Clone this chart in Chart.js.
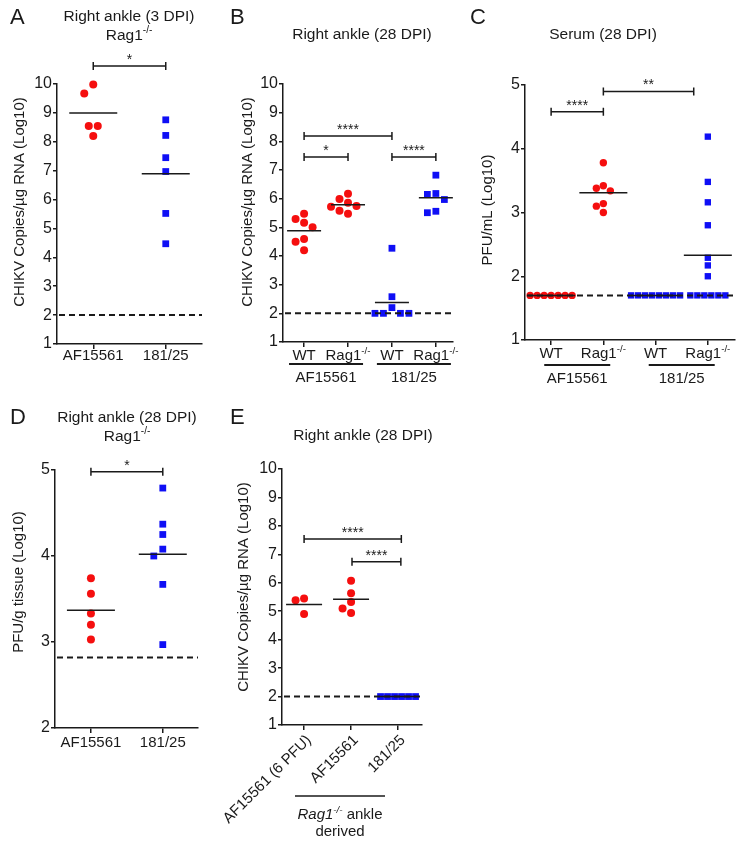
<!DOCTYPE html>
<html>
<head>
<meta charset="utf-8">
<title>CHIKV AF15561 vs 181/25</title>
<script src="https://cdn.jsdelivr.net/npm/chart.js@4/dist/chart.umd.min.js"></script>
<style>
  html, body { margin: 0; padding: 0; background: #fff; }
  #wrap { position: relative; width: 744px; height: 846px; }
  #wrap canvas { position: absolute; left: 0; top: 0; }
</style>
</head>
<body>
<div id="wrap">
  <canvas id="panelA" width="744" height="846"></canvas>
  <canvas id="panelB" width="744" height="846"></canvas>
  <canvas id="panelC" width="744" height="846"></canvas>
  <canvas id="panelD" width="744" height="846"></canvas>
  <canvas id="panelE" width="744" height="846"></canvas>
</div>
<script>
/* ============================
   DATA (log10 values)
============================ */

// A - Right ankle (3 DPI), Rag1-/-
const aCategories = ["AF15561", "181/25"];
const aAF15561 = [9.98, 9.67, 8.55, 8.55, 8.2];
const a18125 = [8.76, 8.22, 7.45, 6.97, 5.52, 4.47];
const aMeans = [9.0, 6.89];
const aLimit = 2.0;
const aYTicks = [1, 2, 3, 4, 5, 6, 7, 8, 9, 10];
const aStats = [[0, 1, 10.62, "*"]];

// B - Right ankle (28 DPI)
const bCategories = ["WT", "Rag1-/-", "WT", "Rag1-/-"];
const bGroups = ["AF15561", "181/25"];
const bAFWT = [5.47, 5.29, 5.16, 5.0, 4.59, 4.5, 4.2];
const bAFRag = [6.17, 5.99, 5.86, 5.74, 5.72, 5.58, 5.47];
const b181WT = [4.27, 2.58, 2.2, 2.0, 2.0, 2.0, 2.0];
const b181Rag = [6.82, 6.18, 6.15, 5.97, 5.56, 5.51];
const bMeans = [4.88, 5.79, 2.38, 6.03];
const bLimit = 2.0;
const bYTicks = [1, 2, 3, 4, 5, 6, 7, 8, 9, 10];
const bStats = [[0, 2, 8.19, "****"], [0, 1, 7.45, "*"], [2, 3, 7.45, "****"]];

// C - Serum (28 DPI), PFU/mL
const cCategories = ["WT", "Rag1-/-", "WT", "Rag1-/-"];
const cGroups = ["AF15561", "181/25"];
const cAFWT = [1.7, 1.7, 1.7, 1.7, 1.7, 1.7, 1.7];
const cAFRag = [3.78, 3.42, 3.38, 3.34, 3.14, 3.1, 3.0];
const c181WT = [1.7, 1.7, 1.7, 1.7, 1.7, 1.7, 1.7, 1.7];
const c181Rag = [4.19, 3.48, 3.16, 2.8, 2.29, 2.17, 2.0, 1.7, 1.7, 1.7, 1.7, 1.7, 1.7];
const cMeans = [1.7, 3.31, 1.7, 2.33];
const cLimit = 1.7;
const cYTicks = [1, 2, 3, 4, 5];
const cStats = [[0, 1, 4.58, "****"], [1, 2.73, 4.9, "**"]];

// D - Right ankle (28 DPI), Rag1-/-, PFU/g tissue
const dCategories = ["AF15561", "181/25"];
const dAF15561 = [3.74, 3.56, 3.33, 3.2, 3.03];
const d18125 = [4.79, 4.37, 4.25, 4.08, 4.0, 3.67, 2.97];
const dMeans = [3.37, 4.02];
const dLimit = 2.82;
const dYTicks = [2, 3, 4, 5];
const dStats = [[0, 1, 4.98, "*"]];

// E - Right ankle (28 DPI), Rag1-/- ankle derived virus
const eCategories = ["AF15561 (6 PFU)", "AF15561", "181/25"];
const eAF6PFU = [5.45, 5.39, 4.9];
const eAF15561 = [6.07, 5.63, 5.32, 5.1, 4.94];
const e18125 = [2.0, 2.0, 2.0, 2.0, 2.0, 2.0];
const eMeans = [5.24, 5.42, 2.0];
const eLimit = 2.0;
const eYTicks = [1, 2, 3, 4, 5, 6, 7, 8, 9, 10];
const eStats = [[0, 2.07, 7.54, "****"], [1.02, 2.06, 6.74, "****"]];

const yTitleRNA = "CHIKV Copies/\u00b5g RNA (Log10)";

/* ============================
   STYLE
============================ */

const FONT = '"Liberation Sans", Arial, Helvetica, sans-serif';
const INK = "#1a1a1a";
const RED = "#f50f0f";
const BLUE = "#0f0ff5";
const W = 744, H = 846;

Chart.defaults.font.family = FONT;

// split "Rag1-/-" into normal + superscript pieces
function toParts(str, italic) {
  const m = str.match(/^(.*?)Rag1-\/-(.*)$/);
  if (!m) return [[str, ""]];
  const st = italic ? "i" : "";
  return [[m[1], ""], ["Rag1", st], ["-/-", st + "sup"], [m[2], ""]].filter(p => p[0]);
}

// text with superscripts, cy = middle of capitals
function drawRich(ctx, parts, x, cy, size, align) {
  const segs = parts.map(([t, st]) => {
    const sup = st.includes("sup");
    const fs = sup ? size * 0.65 : size;
    const font = (st.includes("i") ? "italic " : "") + fs + "px " + FONT;
    ctx.font = font;
    return { t, font, sup, w: ctx.measureText(t).width };
  });
  const total = segs.reduce((s, g) => s + g.w, 0);
  let cx = align === "center" ? x - total / 2 : align === "right" ? x - total : x;
  const base = cy + size * 0.36;
  ctx.textAlign = "left";
  ctx.textBaseline = "alphabetic";
  segs.forEach(g => {
    ctx.font = g.font;
    ctx.fillText(g.t, cx, g.sup ? base - size * 0.42 : base);
    cx += g.w;
  });
}

// simple beeswarm: spread colliding points sideways (offsets in px)
function swarm(values, ppu, step) {
  const order = values.map((v, i) => i).sort((a, b) => values[b] - values[a]);
  const offs = new Array(values.length).fill(0);
  const placed = [];
  order.forEach(i => {
    const y = values[i] * ppu;
    for (let k = 0; k < 60; k++) {
      const n = Math.ceil(k / 2);
      const cand = (k % 2 ? -n : n) * step;
      if (placed.every(p => Math.hypot(p.x - cand, p.y - y) >= step - 0.01)) {
        offs[i] = cand;
        placed.push({ x: cand, y });
        break;
      }
    }
  });
  // centre rows of identical values
  const rows = {};
  values.forEach((v, i) => (rows[v] = rows[v] || []).push(i));
  Object.values(rows).forEach(ix => {
    if (ix.length < 2) return;
    const mid = ix.reduce((s, i) => s + offs[i], 0) / ix.length;
    ix.forEach(i => (offs[i] -= mid));
  });
  return offs;
}

/* ============================
   PANELS
============================ */

const panels = [
  {
    id: "A", box: { left: 57, right: 202, top: 84, bottom: 344 },
    xr: [-0.5, 1.5], yr: [1, 10], yTicks: aYTicks, cats: aCategories,
    series: [
      { values: aAF15561, cat: 0, color: RED, shape: "circle" },
      { values: a18125, cat: 1, color: BLUE, shape: "rect" },
    ],
    means: aMeans, limit: aLimit, stats: aStats,
    dot: 4, sq: 4.8, step: 9, meanHalf: 24,
    letter: ["A", 10, 16],
    titles: [["Right ankle (3 DPI)", 129, 15], ["Rag1-/-", 129, 34]],
    yTitle: [yTitleRNA, 19, 202],
    xLabels: { mode: "simple", cy: 355 },
  },
  {
    id: "B", box: { left: 283, right: 453, top: 84, bottom: 342 },
    xr: [-0.48, 3.39], yr: [1, 10], yTicks: bYTicks, cats: bCategories,
    series: [
      { values: bAFWT, cat: 0, color: RED, shape: "circle" },
      { values: bAFRag, cat: 1, color: RED, shape: "circle" },
      { values: b181WT, cat: 2, color: BLUE, shape: "rect" },
      { values: b181Rag, cat: 3, color: BLUE, shape: "rect" },
    ],
    means: bMeans, limit: bLimit, stats: bStats,
    dot: 4, sq: 4.8, step: 8.5, meanHalf: 17,
    letter: ["B", 230, 16],
    titles: [["Right ankle (28 DPI)", 362, 33]],
    yTitle: [yTitleRNA, 247, 202],
    xLabels: { mode: "grouped", cy: 355, lineY: 364, half: 37, groupY: 377, groups: bGroups },
  },
  {
    id: "C", box: { left: 525, right: 735, top: 85, bottom: 340 },
    xr: [-0.5, 3.52], yr: [1, 5], yTicks: cYTicks, cats: cCategories,
    series: [
      { values: cAFWT, cat: 0, color: RED, shape: "circle" },
      { values: cAFRag, cat: 1, color: RED, shape: "circle" },
      { values: c181WT, cat: 2, color: BLUE, shape: "rect" },
      { values: c181Rag, cat: 3, color: BLUE, shape: "rect" },
    ],
    means: cMeans, limit: cLimit, stats: cStats,
    dot: 3.7, sq: 4.5, step: 7, meanHalf: 24,
    letter: ["C", 470, 16],
    titles: [["Serum (28 DPI)", 603, 33]],
    yTitle: ["PFU/mL (Log10)", 487, 210],
    xLabels: { mode: "grouped", cy: 353, lineY: 365, half: 33, groupY: 378, groups: cGroups },
  },
  {
    id: "D", box: { left: 55, right: 198, top: 470, bottom: 728 },
    xr: [-0.5, 1.49], yr: [2, 5], yTicks: dYTicks, cats: dCategories,
    series: [
      { values: dAF15561, cat: 0, color: RED, shape: "circle" },
      { values: d18125, cat: 1, color: BLUE, shape: "rect" },
    ],
    means: dMeans, limit: dLimit, stats: dStats,
    dot: 4, sq: 4.8, step: 9, meanHalf: 24,
    letter: ["D", 10, 416],
    titles: [["Right ankle (28 DPI)", 127, 416], ["Rag1-/-", 127, 435]],
    yTitle: ["PFU/g tissue (Log10)", 18, 582],
    xLabels: { mode: "simple", cy: 742 },
  },
  {
    id: "E", box: { left: 282, right: 422, top: 469, bottom: 725 },
    xr: [-0.47, 2.51], yr: [1, 10], yTicks: eYTicks, cats: eCategories,
    series: [
      { values: eAF6PFU, cat: 0, color: RED, shape: "circle" },
      { values: eAF15561, cat: 1, color: RED, shape: "circle" },
      { values: e18125, cat: 2, color: BLUE, shape: "rect" },
    ],
    means: eMeans, limit: eLimit, stats: eStats,
    dot: 4, sq: 4.8, step: 8.5, stepSq: 7, meanHalf: 18,
    letter: ["E", 230, 416],
    titles: [["Right ankle (28 DPI)", 363, 434]],
    yTitle: [yTitleRNA, 243, 587],
    xLabels: {
      mode: "rotated", dx: 4, dy: 12,
      line: [295, 385, 796],
      notes: [["Rag1-/- ankle", 340, 814, true], ["derived", 340, 831, false]],
    },
  },
];

/* ============================
   DRAWING PLUGIN
============================ */

function decor(p) {
  return {
    id: "decor" + p.id,
    afterDatasetsDraw(chart) {
      const { ctx, chartArea: ca, scales: { x, y } } = chart;
      ctx.save();
      ctx.strokeStyle = INK;
      // limit of detection
      const ly = y.getPixelForValue(p.limit);
      ctx.lineWidth = 2;
      ctx.setLineDash([6, 4]);
      ctx.beginPath();
      ctx.moveTo(ca.left + 2, ly);
      ctx.lineTo(ca.right, ly);
      ctx.stroke();
      ctx.setLineDash([]);
      // group means
      ctx.lineWidth = 1.5;
      p.means.forEach((m, i) => {
        const cx = x.getPixelForValue(i), my = y.getPixelForValue(m);
        ctx.beginPath();
        ctx.moveTo(cx - p.meanHalf, my);
        ctx.lineTo(cx + p.meanHalf, my);
        ctx.stroke();
      });
      ctx.restore();
    },
    afterDraw(chart) {
      const { ctx, chartArea: ca, scales: { x, y } } = chart;
      ctx.save();
      ctx.fillStyle = INK;
      ctx.strokeStyle = INK;

      // significance brackets
      ctx.lineWidth = 1.5;
      p.stats.forEach(([from, to, level, label]) => {
        const x1 = x.getPixelForValue(from), x2 = x.getPixelForValue(to);
        const by = y.getPixelForValue(level);
        ctx.beginPath();
        ctx.moveTo(x1, by); ctx.lineTo(x2, by);
        ctx.moveTo(x1, by - 4); ctx.lineTo(x1, by + 4);
        ctx.moveTo(x2, by - 4); ctx.lineTo(x2, by + 4);
        ctx.stroke();
        ctx.font = "14px " + FONT;
        ctx.textAlign = "center";
        ctx.textBaseline = "alphabetic";
        ctx.fillText(label, (x1 + x2) / 2, by - 2);
      });

      // category labels
      const xl = p.xLabels;
      if (xl.mode === "simple" || xl.mode === "grouped") {
        p.cats.forEach((c, i) => drawRich(ctx, toParts(c), x.getPixelForValue(i), xl.cy, 15, "center"));
      }
      if (xl.mode === "grouped") {
        ctx.lineWidth = 1.8;
        xl.groups.forEach((g, gi) => {
          const gx = (x.getPixelForValue(gi * 2) + x.getPixelForValue(gi * 2 + 1)) / 2;
          ctx.beginPath();
          ctx.moveTo(gx - xl.half, xl.lineY);
          ctx.lineTo(gx + xl.half, xl.lineY);
          ctx.stroke();
          drawRich(ctx, toParts(g), gx, xl.groupY, 15, "center");
        });
      }
      if (xl.mode === "rotated") {
        p.cats.forEach((c, i) => {
          ctx.save();
          ctx.translate(x.getPixelForValue(i) + xl.dx, ca.bottom + xl.dy);
          ctx.rotate(-Math.PI / 4);
          drawRich(ctx, toParts(c), 0, 0, 15, "right");
          ctx.restore();
        });
        const [l1, l2, ly] = xl.line;
        ctx.lineWidth = 1.5;
        ctx.beginPath();
        ctx.moveTo(l1, ly);
        ctx.lineTo(l2, ly);
        ctx.stroke();
        xl.notes.forEach(([t, nx, ny, it]) => drawRich(ctx, toParts(t, it), nx, ny, 15, "center"));
      }

      // y axis title
      const [yt, yx, yc] = p.yTitle;
      ctx.save();
      ctx.translate(yx, yc);
      ctx.rotate(-Math.PI / 2);
      drawRich(ctx, [[yt, ""]], 0, 0, 15, "center");
      ctx.restore();

      // panel titles and letter
      p.titles.forEach(([t, tx, ty]) => drawRich(ctx, toParts(t), tx, ty, 15.5, "center"));
      const [lt, lx, lc] = p.letter;
      drawRich(ctx, [[lt, ""]], lx, lc, 22, "left");

      ctx.restore();
    },
  };
}

/* ============================
   BUILD CHARTS
============================ */

function buildPanel(p) {
  const b = p.box;
  const ppu = (b.bottom - b.top) / (p.yr[1] - p.yr[0]);
  const catPx = (b.right - b.left) / (p.xr[1] - p.xr[0]);

  const datasets = p.series.map(s => {
    const offs = swarm(s.values, ppu, s.shape === "rect" ? (p.stepSq || p.step) : p.step);
    return {
      data: s.values.map((v, i) => ({ x: s.cat + offs[i] / catPx, y: v })),
      pointStyle: s.shape,
      pointRadius: s.shape === "rect" ? p.sq : p.dot,
      pointHoverRadius: s.shape === "rect" ? p.sq : p.dot,
      pointBackgroundColor: s.color,
      pointBorderWidth: 0,
      showLine: false,
      clip: false,
    };
  });

  return new Chart(document.getElementById("panel" + p.id), {
    type: "scatter",
    data: { datasets },
    options: {
      responsive: false,
      animation: false,
      events: [],
      layout: { padding: { left: b.left - 40, right: W - b.right, top: b.top, bottom: H - b.bottom - 10 } },
      plugins: { legend: { display: false }, tooltip: { enabled: false } },
      scales: {
        x: {
          type: "linear", bounds: "data", min: p.xr[0], max: p.xr[1],
          afterBuildTicks: s => { s.ticks = p.cats.map((c, i) => ({ value: i })); },
          afterFit: s => { s.height = 10; },
          border: { color: INK, width: 1.5 },
          grid: { drawOnChartArea: false, drawTicks: true, tickLength: 5, color: INK, lineWidth: 1.5 },
          ticks: { display: false },
        },
        y: {
          type: "linear", bounds: "data", min: p.yr[0], max: p.yr[1],
          afterBuildTicks: s => { s.ticks = p.yTicks.map(v => ({ value: v })); },
          afterFit: s => { s.width = 40; },
          border: { color: INK, width: 1.5 },
          grid: { drawOnChartArea: false, drawTicks: true, tickLength: 4, color: INK, lineWidth: 1.5 },
          ticks: { color: INK, font: { family: FONT, size: 16 }, padding: 1, autoSkip: false },
        },
      },
    },
    plugins: [decor(p)],
  });
}

panels.forEach(buildPanel);
</script>
</body>
</html>
